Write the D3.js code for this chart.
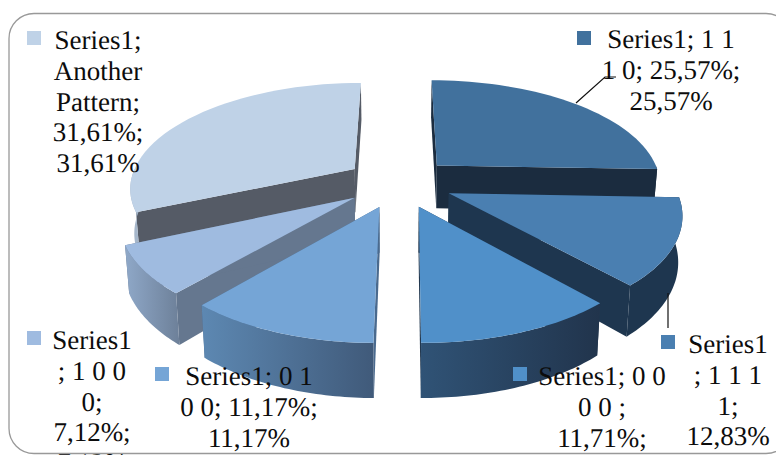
<!DOCTYPE html>
<html><head><meta charset="utf-8">
<style>html,body{margin:0;padding:0;background:#fff;overflow:hidden}svg{display:block}text{font-family:"Liberation Serif",serif;fill:#0c0c0c;text-rendering:geometricPrecision}</style>
<script src="https://cdn.jsdelivr.net/npm/d3@7"></script></head><body>
<svg id="c" width="776" height="455"></svg>
<script>
const categories=["1 1 1 0","1 1 1 1","0 0 0 0","0 1 0 0","1 0 0 0","Another Pattern"];
const values=[25.57,12.83,11.71,11.17,7.12,31.61];
const topColors=["#41719d","#4a7fb1","#5090c9","#75a5d6","#9fbbe0","#bfd2e7"];
const radialColors=["#1b2c3f","#1e364f","#22384f","#4a6a8e","#65778f","#555b66"];
const outerLeft=["#1b2c3f","#1e364f","#305376","#5d88b2","#8fa8c8","#a5b6ca"];
const outerRight=["#1b2c3f","#1e364f","#21344c","#405a7a","#6d8099","#a5b6ca"];
const drawOrder=[5,0,4,1,3,2];
const labelLines=[
 ["Series1; 1 1","1 0; 25,57%;","25,57%"],
 ["Series1","; 1 1 1","1;","12,83%"],
 ["Series1; 0 0","0 0 ;","11,71%;"],
 ["Series1; 0 1","0 0; 11,17%;","11,17%"],
 ["Series1","; 1 0 0","0;","7,12%;","7,12%"],
 ["Series1;","Another","Pattern;","31,61%;","31,61%"]];
const labelPos=[[671,48],[728,353],[602,385],[249,385],[92,349],[98,49]];
const keyPos=[[577,31],[661,335],[513,367],[155,367],[27,331],[27,31]];
const LH=30.8, FS=27;
const cx=399,cy=182.5,R=225,H=104.5,K=0.165,EXPL=0.24,DEPTH=44;

const svg=d3.select("#c");
const defs=svg.append("defs");
svg.append("rect").attr("x",9).attr("y",13.5).attr("width",782).attr("height",440).attr("rx",25)
  .attr("fill","#fff").attr("stroke","#999").attr("stroke-width",1.3);

const arcs=d3.pie().sort(null).startAngle(0).endAngle(2*Math.PI)(values);
const norm=d3.scaleLinear().domain([-1,1]).range([-1,1]);
function proj(u,v,down){
  const s=1/(1-K*norm(v));
  const squeeze=down?0.985:1;
  return [cx+R*u*s*squeeze, cy+H*v*s+(down?DEPTH*s:0)];
}
const line=d3.line();
const order=drawOrder;
order.forEach(i=>{
  const a=arcs[i], mid=(a.startAngle+a.endAngle)/2;
  const ox=EXPL*Math.sin(mid), oy=-EXPL*Math.cos(mid);
  const pt=(t,r,down)=>proj(ox+r*Math.sin(t),oy-r*Math.cos(t),down);
  const g=svg.append("g");
  const ang=(s,e)=>d3.range(0,41).map(k=>s+(e-s)*k/40);
  [a.startAngle,a.endAngle].forEach(t=>{
    g.append("path").attr("d",line([pt(t,0,false),pt(t,1,false),pt(t,1,true),pt(t,0,true)])+"Z").attr("fill",radialColors[i]);
  });
  const s=Math.max(a.startAngle,Math.PI/2), e=Math.min(a.endAngle,1.5*Math.PI);
  if(e>s){
    const id="w"+i;
    const gr=defs.append("linearGradient").attr("id",id);
    gr.append("stop").attr("offset",0).attr("stop-color",outerLeft[i]);
    gr.append("stop").attr("offset",1).attr("stop-color",outerRight[i]);
    const ts=ang(s,e);
    g.append("path").attr("d",line(ts.map(t=>pt(t,1,false)).concat(ts.slice().reverse().map(t=>pt(t,1,true))))+"Z").attr("fill",`url(#${id})`);
  }
  g.append("path").attr("d",line([pt(a.startAngle,0,false)].concat(ang(a.startAngle,a.endAngle).map(t=>pt(t,1,false))))+"Z").attr("fill",topColors[i]);
});
const leaders=[[[576,103],[605,77],[616,77]],[[668,293],[668,328]]];
leaders.forEach(l=>svg.append("path").attr("d",line(l)).attr("fill","none").attr("stroke","#111").attr("stroke-width",1.2));
labelLines.forEach((lines,i)=>{
  svg.append("rect").attr("x",keyPos[i][0]).attr("y",keyPos[i][1]).attr("width",14).attr("height",14).attr("fill",topColors[i]);
  const t=svg.append("text").attr("text-anchor","middle").attr("font-size",FS);
  lines.forEach((s,k)=>t.append("tspan").attr("x",labelPos[i][0]).attr("y",labelPos[i][1]+k*LH).text(s));
});
</script></body></html>
